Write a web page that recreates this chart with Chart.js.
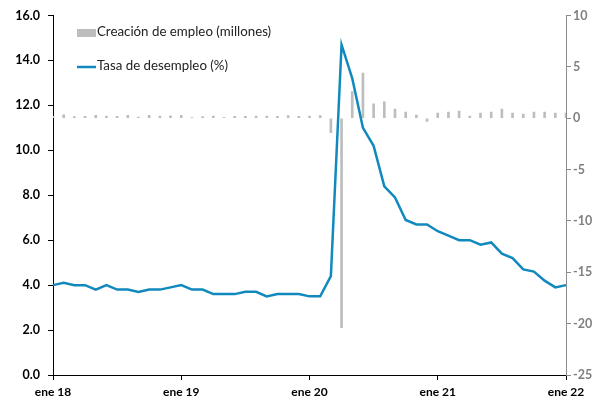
<!DOCTYPE html>
<html lang="es">
<head>
  <meta charset="UTF-8" />
  <title>Desempleo y creación de empleo</title>
  <script src="https://cdn.jsdelivr.net/npm/chart.js"></script>
  <style>
    html, body { margin: 0; padding: 0; background: #fff; }
    #chart { display: block; }
  </style>
</head>
<body>
  <canvas id="chart" width="598" height="400"></canvas>

  <script>
    // Data
    const monthNames = ['ene', 'feb', 'mar', 'abr', 'may', 'jun', 'jul', 'ago', 'sep', 'oct', 'nov', 'dic'];
    const years = ['18', '19', '20', '21', '22'];
    const labels = [];
    years.forEach(function (y, i) {
      monthNames.forEach(function (m) {
        if (i < years.length - 1 || m === 'ene') labels.push(m + ' ' + y);
      });
    });

    // Tasa de desempleo (%) – left axis
    const unemploymentRate = [
      4.0, 4.1, 4.0, 4.0, 3.8, 4.0, 3.8, 3.8, 3.7, 3.8, 3.8, 3.9,
      4.0, 3.8, 3.8, 3.6, 3.6, 3.6, 3.7, 3.7, 3.5, 3.6, 3.6, 3.6,
      3.5, 3.5, 4.4, 14.7, 13.2, 11.0, 10.2, 8.4, 7.9, 6.9, 6.7, 6.7,
      6.4, 6.2, 6.0, 6.0, 5.8, 5.9, 5.4, 5.2, 4.7, 4.6, 4.2, 3.9,
      4.0
    ];

    // Creación de empleo (millones) – right axis
    const jobCreation = [
      0.18, 0.33, 0.16, 0.18, 0.27, 0.21, 0.18, 0.27, 0.11, 0.28, 0.20, 0.23,
      0.27, 0.05, 0.15, 0.21, 0.09, 0.18, 0.19, 0.21, 0.21, 0.19, 0.26, 0.18,
      0.21, 0.25, -1.4, -20.4, 2.6, 4.4, 1.4, 1.6, 0.9, 0.6, 0.3, -0.3,
      0.5, 0.6, 0.7, 0.2, 0.5, 0.6, 0.9, 0.5, 0.4, 0.6, 0.6, 0.5,
      0.5
    ];

    const leftTicks = { min: 0, max: 16, step: 2 };
    const rightTicks = { min: -25, max: 10, step: 5 };

    const FONT = 'Lato, "Liberation Sans", sans-serif';
    const BLUE = '#1189be';
    const GREY_BAR = '#bdbdbd';
    const GREY_AXIS = '#8c8c8c';

    // simple vertical legend drawn inside the plot (top left)
    const innerLegend = {
      id: 'innerLegend',
      afterDraw(chart) {
        const ctx = chart.ctx;
        const ds = chart.data.datasets;
        ctx.save();
        ctx.font = '13.3px ' + FONT;
        ctx.textBaseline = 'middle';
        // bar entry
        ctx.fillStyle = GREY_BAR;
        ctx.fillRect(77, 29, 19, 8);
        ctx.fillStyle = '#222';
        ctx.fillText(ds[1].label, 97, 32);
        // line entry
        ctx.strokeStyle = BLUE;
        ctx.lineWidth = 2.5;
        ctx.beginPath();
        ctx.moveTo(77, 67);
        ctx.lineTo(96, 67);
        ctx.stroke();
        ctx.fillText(ds[0].label, 97, 66);
        ctx.restore();
      }
    };

    new Chart(document.getElementById('chart'), {
      data: {
        labels: labels,
        datasets: [
          {
            type: 'line',
            label: 'Tasa de desempleo (%)',
            data: unemploymentRate,
            yAxisID: 'y',
            borderColor: BLUE,
            borderWidth: 2.5,
            pointRadius: 0,
            tension: 0,
            order: 0
          },
          {
            type: 'bar',
            label: 'Creación de empleo (millones)',
            data: jobCreation,
            yAxisID: 'y1',
            backgroundColor: GREY_BAR,
            barThickness: 2,
            order: 1
          }
        ]
      },
      options: {
        responsive: false,
        animation: false,
        devicePixelRatio: 1,
        layout: { padding: { top: 15, left: 0, right: 0, bottom: 0 } },
        plugins: { legend: { display: false }, tooltip: { enabled: false } },
        scales: {
          x: {
            type: 'category',
            offset: false,
            afterBuildTicks(scale) {
              scale.ticks = scale.ticks.filter(t => t.value % 12 === 0);
            },
            afterFit(scale) { scale.height = 25; },
            grid: { offset: false, drawOnChartArea: false, drawTicks: true, tickLength: 5, color: '#000' },
            border: { color: '#000', width: 1 },
            ticks: {
              autoSkip: false,
              maxRotation: 0,
              padding: 5,
              color: '#000',
              font: { family: FONT, size: 12, weight: 'bold' }
            }
          },
          y: {
            position: 'left',
            min: leftTicks.min,
            max: leftTicks.max,
            afterFit(scale) { scale.width = 53; },
            grid: { drawOnChartArea: false, drawTicks: true, tickLength: 5, color: '#000' },
            border: { color: '#000', width: 1 },
            ticks: {
              stepSize: leftTicks.step,
              padding: 8,
              color: '#000',
              font: { family: FONT, size: 12.5, weight: 'bold' },
              callback: v => v.toFixed(1)
            }
          },
          y1: {
            position: 'right',
            min: rightTicks.min,
            max: rightTicks.max,
            afterFit(scale) { scale.width = 32; },
            grid: { drawOnChartArea: false, drawTicks: true, tickLength: 5, color: GREY_AXIS },
            border: { color: GREY_AXIS, width: 1 },
            ticks: {
              stepSize: rightTicks.step,
              padding: 2,
              color: '#808080',
              font: { family: FONT, size: 12.5, weight: 'bold' }
            }
          }
        }
      },
      plugins: [innerLegend]
    });
  </script>
</body>
</html>
